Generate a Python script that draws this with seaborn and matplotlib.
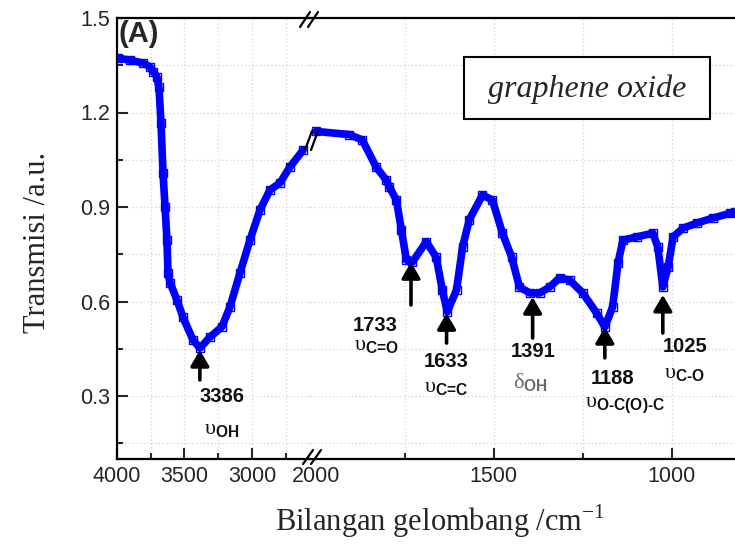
import numpy as np
import pandas as pd
import seaborn as sns
import matplotlib.pyplot as plt
from matplotlib.lines import Line2D
from matplotlib.patches import Rectangle

# spettro FTIR del graphene oxide (asse x spezzato)
left_wn = [3993, 3904, 3807, 3756, 3733, 3704, 3689, 3674, 3659, 3644, 3630, 3622, 3607,
           3556, 3511, 3437, 3386, 3311, 3222, 3163, 3089, 3015, 2941, 2867, 2793, 2719, 2622]
left_t = [1.373, 1.366, 1.357, 1.345, 1.33, 1.313, 1.28, 1.167, 1.008, 0.90, 0.795, 0.69, 0.66,
          0.605, 0.55, 0.478, 0.452, 0.487, 0.52, 0.583, 0.69, 0.795, 0.89, 0.954, 0.976, 1.027, 1.08]

right_wn = [2000, 1907, 1870, 1831, 1803, 1794, 1774, 1760, 1746, 1729, 1690, 1662, 1645, 1631,
            1605, 1588, 1569, 1532, 1504, 1476, 1450, 1428, 1399, 1371, 1343, 1315, 1287, 1250,
            1211, 1188, 1166, 1151, 1137, 1098, 1053, 1039, 1025, 1010, 996, 968, 929, 884, 836, 822]
right_t = [1.14, 1.13, 1.113, 1.027, 0.986, 0.964, 0.922, 0.827, 0.732, 0.725, 0.79, 0.74, 0.637, 0.567,
           0.637, 0.773, 0.86, 0.938, 0.922, 0.817, 0.741, 0.646, 0.627, 0.627, 0.646, 0.675, 0.668, 0.627,
           0.563, 0.519, 0.583, 0.722, 0.795, 0.805, 0.817, 0.773, 0.646, 0.71, 0.805, 0.833, 0.849, 0.865, 0.88, 0.885]

# picchi annotati
peak_wn = [3386, 1733, 1633, 1391, 1188, 1025]
peak_lbl = ['3386', '1733', '1633', '1391', '1188', '1025']
peak_mode = [r'$\mathregular{υ}_{\text{OH}}$', r'$\mathregular{υ}_{\text{C=O}}$',
             r'$\mathregular{υ}_{\text{C=C}}$', r'$\mathregular{δ}_{\text{OH}}$',
             r'$\mathregular{υ}_{\text{O-C(O)-C}}$', r'$\mathregular{υ}_{\text{C-O}}$']

# posizioni frecce / testi (numero d'onda, trasmissione)
tip_t = [0.446, 0.725, 0.563, 0.614, 0.519, 0.621]
tail_t = [0.351, 0.589, 0.468, 0.484, 0.421, 0.50]
num_xy = [(3222, 0.297), (1834, 0.525), (1633, 0.408), (1391, 0.44), (1166, 0.357), (962, 0.456)]
mode_xy = [(3222, 0.192), (1831, 0.456), (1633, 0.325), (1397, 0.341), (1130, 0.271), (965, 0.367)]

sns.set_style('ticks')
plt.rcParams['font.family'] = ['Liberation Sans', 'DejaVu Sans']
plt.rcParams['mathtext.fontset'] = 'custom'
plt.rcParams['mathtext.rm'] = 'Liberation Sans:bold'
plt.rcParams['mathtext.bf'] = 'Liberation Sans:bold'
plt.rcParams['mathtext.it'] = 'Liberation Sans:italic'

W, H = 735, 547
fx = lambda px: px / W
fy = lambda py: 1 - py / H

fig = plt.figure(figsize=(7.35, 5.47), dpi=100)
ax1 = fig.add_axes([fx(117), fy(459), fx(310) - fx(117), fy(18) - fy(459)])
ax2 = fig.add_axes([fx(310), fy(459), fx(735) - fx(310), fy(18) - fy(459)], sharey=ax1)

blu = '#0000ff'
df_l = pd.DataFrame({'wn': left_wn, 't': left_t})
df_r = pd.DataFrame({'wn': right_wn, 't': right_t})
for ax, df in ((ax1, df_l), (ax2, df_r)):
    sns.lineplot(data=df, x='wn', y='t', ax=ax, color=blu, lw=5.5, sort=False,
                 marker='s', markersize=5.5, markerfacecolor='none', markeredgecolor=blu,
                 markeredgewidth=1.0, zorder=3)
    ax.set_xlabel('')
    ax.set_ylabel('')
    ax.set_axisbelow(True)
    ax.grid(True, which='both', color='#d2d2d2', ls=(0, (1, 2)), lw=0.9)
    for s in ax.spines.values():
        s.set_linewidth(1.6)
        s.set_color('black')
    ax.tick_params(which='both', direction='in', width=1.5, labelsize=15.5, pad=5)
    ax.tick_params(which='major', length=8)
    ax.tick_params(which='minor', length=4.5)

ax1.set_xlim(4000, 2570)
ax2.set_xlim(2017, 822)
ax1.set_ylim(0.1, 1.5)
ax1.set_xticks([4000, 3500, 3000])
ax1.set_xticks([3750, 3250, 2750], minor=True)
ax2.set_xticks([2000, 1500, 1000])
ax2.set_xticks([1750, 1250], minor=True)
ax1.set_yticks([0.3, 0.6, 0.9, 1.2, 1.5])
ax1.set_yticks([0.15, 0.45, 0.75, 1.05, 1.35], minor=True)
ax1.set_xticklabels(['4000', '3500', '3000'])
ax2.set_xticklabels(['2000', '1500', '1000'])
ax1.set_yticklabels(['0.3', '0.6', '0.9', '1.2', '1.5'])
ax1.spines['right'].set_visible(False)
ax2.spines['left'].set_visible(False)
ax2.spines['right'].set_visible(False)
ax1.tick_params(axis='y', which='both', right=False)
ax1.tick_params(axis='x', which='both', top=False)
ax2.tick_params(axis='y', which='both', left=False, right=False, labelleft=False)
ax2.tick_params(axis='x', which='both', top=False)
t0 = ax2.xaxis.get_major_ticks()[0]
t0.tick1line.set_visible(False)
t0.gridline.set_visible(False)

# frecce e etichette dei picchi
for i, wn in enumerate(peak_wn):
    ax = ax1 if wn > 2500 else ax2
    ax.annotate('', xy=(wn, tip_t[i]), xytext=(wn, tail_t[i]),
                arrowprops=dict(arrowstyle='-|>,head_length=0.6,head_width=0.35', color='black',
                                lw=2.6, mutation_scale=16, shrinkA=0, shrinkB=0), zorder=5)
    ax.text(num_xy[i][0], num_xy[i][1], peak_lbl[i], ha='center', va='center',
            fontsize=14.5, fontweight='bold', color='#111111', zorder=5)
    col = '#6a6a6a' if i == 3 else '#111111'
    ax.text(mode_xy[i][0], mode_xy[i][1], peak_mode[i], ha='center', va='center',
            fontsize=16, color=col, family='Liberation Serif', zorder=5)

ax1.text(0.008, 0.995, '(A)', transform=ax1.transAxes, ha='left', va='top',
         fontsize=21, fontweight='bold', zorder=6)

# riquadro con il nome del campione
fig.add_artist(Rectangle((fx(464), fy(119)), fx(710) - fx(464), fy(57) - fy(119),
                         transform=fig.transFigure, facecolor='white', edgecolor='black', lw=1.5, zorder=6))
fig.text(fx(587), fy(89), 'graphene oxide', ha='center', va='center', fontsize=23,
         style='italic', family='Liberation Serif', zorder=7)

# segni di interruzione dell'asse
breaks = [((300, 27), (310, 12)), ((308, 27), (318, 12)),
          ((303, 464), (313, 450)), ((311, 464), (321, 450)),
          ((305, 150), (312, 131)), ((311, 150), (318, 131))]
for (a, b) in breaks:
    fig.add_artist(Line2D([fx(a[0]), fx(b[0])], [fy(a[1]), fy(b[1])], transform=fig.transFigure,
                          color='black', lw=1.6, zorder=8))

fig.text(fx(38), fy(242), 'Transmisi /a.u.', rotation=90, ha='center', va='center',
         fontsize=22, family='Liberation Serif')
fig.text(fx(440), fy(521), r'Bilangan gelombang /cm$^{\mathregular{-1}}$', ha='center', va='center',
         fontsize=22, family='Liberation Serif')

fig.savefig('out.png', dpi=100)
